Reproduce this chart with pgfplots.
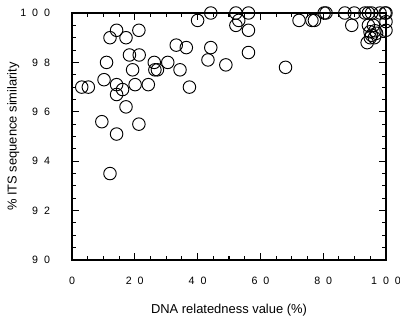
\documentclass[border=0pt]{standalone}
\usepackage{fontspec}
\setmainfont{Liberation Sans}
\usepackage{pgfplots}
\pgfplotsset{compat=1.18}
\newcommand\gp{\hspace{0.55em}}
\begin{document}
\begin{tikzpicture}
\begin{axis}[
  scale only axis,
  width=235.5pt, height=185.25pt,
  xmin=0, xmax=100, ymin=90, ymax=100,
  xtick={0,20,40,60,80,100},
  xticklabels={0,2\gp0,4\gp0,6\gp0,8\gp0,1\gp0\gp0},
  ytick={90,92,94,96,98,100},
  yticklabels={9\gp0,9\gp2,9\gp4,9\gp6,9\gp8,1\gp0\gp0},
  minor x tick num=3, minor y tick num=3,
  tick align=inside,
  major tick length=5.5pt, minor tick length=3.2pt,
  axis line style={line width=0.8pt},
  every tick/.style={line width=0.8pt, black},
  tick label style={font=\fontsize{8}{9}\selectfont},
  xticklabel style={yshift=-9pt},
  yticklabel style={xshift=-13pt},
  label style={font=\fontsize{9.7}{11}\selectfont},
  xlabel={DNA relatedness value (\%)},
  ylabel={\% ITS sequence similarity},
  xlabel style={yshift=-8pt},
  ylabel style={yshift=-6pt},
  clip=false,
]
\addplot[only marks, mark=o, mark size=4.7pt, mark options={line width=0.7pt, black}] coordinates {
(3.1,97.0)(5.2,97.0)(9.5,95.6)(10.2,97.3)(11.0,98.0)(12.1,99.0)(12.1,93.5)
(14.2,99.3)(14.2,97.1)(14.2,96.7)(14.2,95.1)(16.1,96.9)(17.2,99.0)(17.2,96.2)
(18.3,98.3)(19.3,97.7)(20.1,97.1)(21.3,99.3)(21.4,98.3)(21.3,95.5)(24.3,97.1)
(26.2,98.0)(26.4,97.7)(27.2,97.7)(30.5,98.0)(33.2,98.7)(34.4,97.7)(36.4,98.6)
(37.4,97.0)(40.0,99.7)(43.3,98.1)(44.2,98.6)(44.2,100)(49.0,97.9)(52.2,100)
(52.2,99.5)(53.1,99.7)(56.2,100)(56.2,99.3)(56.2,98.4)(68.0,97.8)(72.3,99.7)
(76.4,99.7)(77.2,99.7)(80.3,100)(80.9,100)(86.9,100)(89.9,100)(89.1,99.5)
(93.3,100)(94.4,100)(95.4,100)(98.1,100)(99.7,100)(100,100)(100,99.65)
(94.4,99.5)(96.0,99.5)(100,99.3)(94.9,99.24)(96.5,99.28)(95.4,99.1)(97.0,99.18)
(95.0,99.0)(96.3,99.0)(94.0,98.8)
};
\coordinate (sw) at (rel axis cs:0,0);
\coordinate (ne) at (rel axis cs:1,1);
\end{axis}
\pgfresetboundingbox
\path[use as bounding box] ([shift={(-54pt,-46.5pt)}]sw) rectangle ([shift={(10.5pt,9.75pt)}]ne);
\end{tikzpicture}
\end{document}
